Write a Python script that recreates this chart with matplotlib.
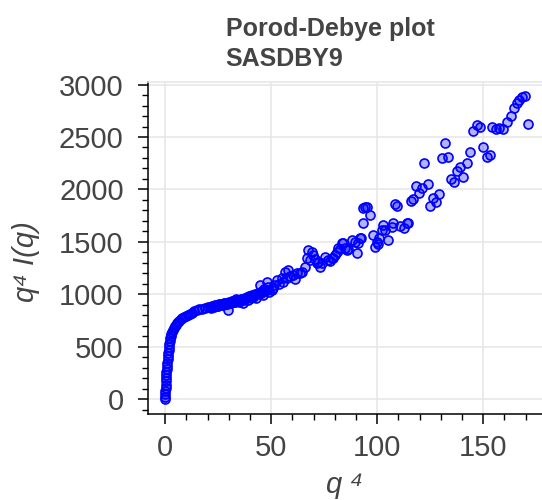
import matplotlib
matplotlib.use("Agg")
import matplotlib.pyplot as plt
from matplotlib.ticker import MultipleLocator

# Porod-Debye plot, SASDBY9: x = q^4, y = q^4 * I(q)
# knee: steep rise at tiny q^4, then the bend
knee_q4 = [0.0, 0.02, 0.05, 0.09, 0.14, 0.2, 0.27, 0.35, 0.44, 0.54, 0.65, 0.77, 0.9, 1.04,
           1.19, 1.35, 1.52, 1.7, 1.9, 2.12, 2.36, 2.62, 2.9, 3.2, 3.55, 3.95, 4.4, 4.9,
           5.4, 6.0, 6.6, 7.3, 8.0, 8.8, 9.6, 10.5, 11.5, 12.5, 13.6, 14.8, 16.0, 17.3,
           18.7, 20.2]
knee_I = [0, 25, 50, 80, 110, 140, 170, 200, 230, 260, 290, 320, 350, 380,
          410, 440, 470, 500, 528, 555, 580, 603, 625, 645, 663, 680, 696, 711,
          724, 737, 750, 762, 774, 786, 797, 807, 817, 827, 837, 847, 856, 864, 868, 875]

# band 20..65 with a bit of scatter
band_q4 = [21, 21.5, 22, 22.5, 23, 23.5, 24, 24.5, 25, 25.5, 26, 26.5, 27, 27.5, 28, 28.5,
           29, 29.7, 30, 30.5, 31, 31.5, 32, 32.5, 33, 33.5, 34, 34.5, 35, 35.5, 36, 36.8,
           37, 37.5, 38, 38.5, 39, 39.5, 40, 40.5, 41, 41.5, 42, 42.5, 43, 43.5, 44, 44.7,
           45, 45.5, 46, 46.5, 47, 47.8, 48, 48.5, 49, 50.2, 51, 51.5, 52.5, 53.5, 54.9,
           55.5, 56.5, 57.2, 58, 59, 60.4, 61.2, 62, 63.5, 64.3, 65.9]
band_I = [878, 872, 886, 890, 884, 895, 898, 893, 892, 908, 905, 898, 902, 920, 915, 907,
          910, 851, 925, 918, 916, 940, 935, 925, 930, 952, 946, 936, 928, 958, 955, 915,
          950, 962, 966, 975, 948, 985, 980, 962, 994, 972, 990, 1005, 962, 1012, 1002,
          1089, 1015, 1035, 996, 1050, 1030, 1121, 1040, 1070, 1022, 1043, 1062, 1090,
          1137, 1100, 1153, 1120, 1216, 1160, 1232, 1175, 1185, 1150, 1201, 1201, 1216,
          1264]

# sparse tail
tail_q4 = [66.7, 67.5, 68.3, 69.1, 69.8, 70.5, 71.4, 72.2, 73, 74, 75.3, 76.9, 77.7, 78.5,
           79.3, 80, 80.8, 81.6, 82.4, 83.2, 83.7, 84.8, 85.6, 86.3, 87.9, 89.5, 90.3, 91,
           91.8, 92.2, 93.1, 93.4, 94.3, 95.3, 96.6, 97.8, 98.9, 99.7, 100.5, 101, 102,
           102.8, 103.6, 105.2, 106.8, 107.5, 108.4, 109.4, 110.7, 112.6, 113.9, 114.6,
           115.7, 117, 118.3, 119.8, 121, 122.2, 123.8, 124.9, 126.1, 127.7, 129.2, 130.4,
           131.9, 133.5, 134.6, 136.2, 137.5, 138.9, 140.6, 142.5, 143.7, 145.3, 146.9,
           148.4, 150, 151.6, 153.2, 154.2, 156, 157.5, 159.4, 161.3, 162.9, 164.5, 165.8,
           167, 168.4, 169.7, 171.2]
tail_I = [1344, 1423, 1328, 1407, 1375, 1340, 1296, 1310, 1264, 1300, 1359, 1328, 1320,
          1344, 1344, 1375, 1407, 1439, 1430, 1487, 1493, 1439, 1423, 1430, 1518, 1502,
          1391, 1487, 1534, 1534, 1677, 1820, 1835, 1830, 1756, 1566, 1454, 1502, 1480,
          1534, 1613, 1661, 1613, 1518, 1645, 1677, 1861, 1845, 1654, 1635, 1677, 1677,
          1893, 1906, 2033, 1969, 2011, 2249, 2049, 1842, 1921, 1877, 1954, 2303, 2440,
          2306, 2099, 2074, 2176, 2217, 2121, 2249, 2360, 2560, 2614, 2592, 2402, 2312,
          2328, 2592, 2573, 2583, 2573, 2640, 2703, 2773, 2821, 2852, 2878, 2893, 2624]

q4 = knee_q4 + band_q4 + tail_q4
q4I = knee_I + band_I + tail_I

FONT = ["Liberation Sans", "DejaVu Sans"]
GREY = "#444444"

fig = plt.figure(figsize=(5.42, 5.0), dpi=100)
ax = fig.add_axes([148 / 542, 1 - 414.3 / 500, 1 - 148 / 542, (414.3 - 81.7) / 500])

ax.scatter(q4, q4I, s=42, facecolor=(0, 0, 1, 0.3), edgecolor="#0000ff",
           linewidths=1.2, zorder=3)

ax.set_xlim(-8.16, 177.7)
ax.set_ylim(-143, 3027)
ax.xaxis.set_major_locator(MultipleLocator(50))
ax.xaxis.set_minor_locator(MultipleLocator(10))
ax.yaxis.set_major_locator(MultipleLocator(500))
ax.yaxis.set_minor_locator(MultipleLocator(100))

ax.grid(True, which="major", color="#e5e5e5", lw=1.1)
ax.set_axisbelow(True)
for s in ("left", "bottom"):
    ax.spines[s].set_linewidth(1.1)
    ax.spines[s].set_color("black")
ax.spines["right"].set_visible(False)
ax.spines["top"].set_color("#e5e5e5")
ax.spines["top"].set_linewidth(1.1)

ax.tick_params(which="major", length=7.5, width=1.1, color="black", labelcolor=GREY,
               labelsize=21)
ax.tick_params(which="minor", length=4.5, width=1.0, color="black")
ax.tick_params(axis="x", which="major", pad=7)
ax.tick_params(axis="y", which="major", pad=10)
ax.tick_params(top=False, right=False, which="both")
for lab in ax.get_xticklabels() + ax.get_yticklabels():
    lab.set_family(FONT)

ax.set_xlabel("q ⁴", fontsize=21, color=GREY, style="italic", family=FONT)
ax.xaxis.set_label_coords(0.5, -(493 - 414.3) / 332.6)
ax.xaxis.label.set_va("baseline")
ax.set_ylabel("q⁴ I(q)", fontsize=21, color=GREY, style="italic", family=FONT)
ax.yaxis.set_label_coords((26 - 148) / 394, (414.3 - 262) / 332.6)
ax.yaxis.label.set_va("center")

fig.text(225.6 / 542, 1 - 35.6 / 500, "Porod-Debye plot", fontsize=18, fontweight="bold",
         color=GREY, family=FONT, ha="left", va="baseline")
fig.text(225.6 / 542, 1 - 65.7 / 500, "SASDBY9", fontsize=18, fontweight="bold",
         color=GREY, family=FONT, ha="left", va="baseline")

fig.savefig("out.png", dpi=100)
